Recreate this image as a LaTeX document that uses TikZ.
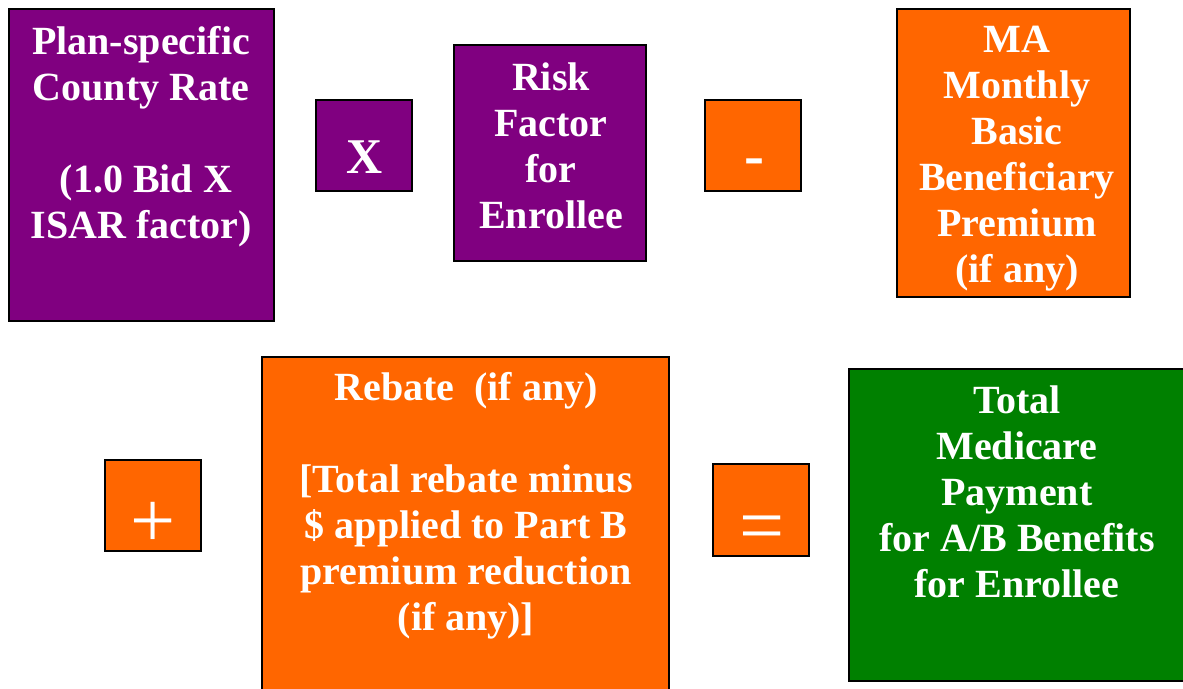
\documentclass[tikz,border=0pt]{standalone}
\usepackage{fontspec}
\setmainfont{Liberation Serif}
\definecolor{cpurple}{HTML}{800080}
\definecolor{corange}{HTML}{FF6600}
\definecolor{cgreen}{HTML}{008000}
\begin{document}
\begin{tikzpicture}[x=1pt,y=-1pt,
  box/.style={draw=black,line width=2pt,inner sep=0pt,outer sep=0pt},
  txt/.style={text=white,align=center,inner sep=0pt,font=\bfseries\fontsize{40}{46}\selectfont},
  op/.style={text=white,inner sep=0pt}]
\useasboundingbox (0,0) rectangle (1183,688);
% boxes
\draw[box,fill=cpurple] (9,9) rectangle (274,321);
\draw[box,fill=cpurple] (316,100) rectangle (412,191);
\draw[box,fill=cpurple] (454,45) rectangle (646,261);
\draw[box,fill=corange] (705,100) rectangle (801,191);
\draw[box,fill=corange] (897,9) rectangle (1130,297);
\draw[box,fill=corange] (105,460) rectangle (201,551);
\draw[box,fill=corange] (262,357) rectangle (669,700);
\draw[box,fill=corange] (713,464) rectangle (809,556);
\draw[box,fill=cgreen] (849,369) rectangle (1190,681);
% texts
\node[txt] (t1) at (141,136.5) {Plan-specific\\County Rate\\[46pt]~(1.0 Bid X\\ISAR factor)};
\node[txt] (t2) at (551,146) {Risk\\Factor\\for\\Enrollee};
\node[txt] (t3) at (1017,159) {MA\\Monthly\\Basic\\Beneficiary\\Premium\\(if any)};
\node[txt] (t4) at (466,506) {Rebate~ (if any)\\[46pt][Total rebate minus\\\$ applied to Part B\\premium reduction\\(if any)]};
\node[txt] (t5) at (1017,492) {Total\\Medicare\\Payment\\for A/B Benefits\\for Enrollee};
% operators
\node[op,font=\bfseries\fontsize{50}{50}\selectfont] (ox) at (365,157) {X};
\node[op,font=\bfseries\fontsize{60}{60}\selectfont] (om) at (754,167) {-};
\node[op,font=\fontsize{80}{80}\selectfont] (op) at (153,525) {+};
\node[op,font=\fontsize{80}{80}\selectfont] (oe) at (762,534) {=};
\end{tikzpicture}
\end{document}
